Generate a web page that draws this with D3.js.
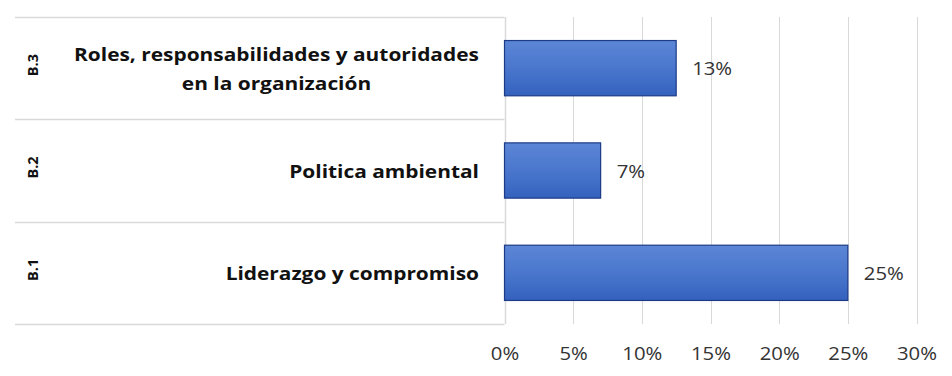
<!DOCTYPE html>
<html><head><meta charset="utf-8">
<script src="https://cdn.jsdelivr.net/npm/d3@7"></script>
<style>body{margin:0;background:#fff}svg{display:block}</style>
</head><body>
<svg id="c" width="952" height="376"></svg>
<script>
const codes = ["B.3", "B.2", "B.1"];
const categories = [["Roles, responsabilidades y autoridades", "en la organización"], ["Politica ambiental"], ["Liderazgo y compromiso"]];
const values = [0.125, 0.07, 0.25];
const valueLabels = ["13%", "7%", "25%"];
const ticks = [0, 0.05, 0.10, 0.15, 0.20, 0.25, 0.30];

(function(){
const FONT = "'Open Sans', sans-serif";
const SX = 1.16;
const svg = d3.select("#c");
const defs = svg.append("defs");
const g = defs.append("linearGradient").attr("id","bg").attr("x1",0).attr("x2",0).attr("y1",0).attr("y2",1);
g.append("stop").attr("offset","0%").attr("stop-color","#5c86d6");
g.append("stop").attr("offset","50%").attr("stop-color","#4a77cd");
g.append("stop").attr("offset","100%").attr("stop-color","#3461bd");

const pL = 504.5, pR = 916.5, pT = 17, pB = 324;
const x = d3.scaleLinear().domain([0, 0.30]).range([pL, pR]);
const y = d3.scaleBand().domain(codes).range([pT, pB]).paddingInner(0.46).paddingOuter(0.23);
const rows = d3.scaleBand().domain(codes).range([pT, pB]);

// gridlines
svg.append("g").selectAll("line").data(ticks.slice(1)).join("line")
  .attr("x1", d => Math.round(x(d)) + 0.5).attr("x2", d => Math.round(x(d)) + 0.5)
  .attr("y1", pT).attr("y2", pB)
  .attr("stroke", "#d9d9d9").attr("stroke-width", 1);

// category separators (multi-level axis)
const seps = [pT, ...codes.map(c => rows(c) + rows.bandwidth())];
svg.append("g").selectAll("line").data(seps).join("line")
  .attr("x1", 15).attr("x2", pL)
  .attr("y1", d => Math.round(d) + 0.5).attr("y2", d => Math.round(d) + 0.5)
  .attr("stroke", "#d9d9d9").attr("stroke-width", 1.5);
// axis line
svg.append("line").attr("x1", Math.round(pL)+0.5).attr("x2", Math.round(pL)+0.5)
  .attr("y1", pT).attr("y2", pB).attr("stroke", "#d9d9d9").attr("stroke-width", 1.5);

// bars
svg.append("g").selectAll("rect").data(codes).join("rect")
  .attr("x", x(0)).attr("y", d => y(d))
  .attr("width", (d, i) => x(values[i]) - x(0)).attr("height", y.bandwidth())
  .attr("fill", "url(#bg)").attr("stroke", "#1c3a86").attr("stroke-width", 1.2);

// value labels
svg.append("g").selectAll("text").data(codes).join("text")
  .attr("transform", (d, i) => `translate(${x(values[i]) + 16},${y(d) + y.bandwidth() / 2 + 1}) scale(${SX},1)`)
  .attr("dy", "0.35em").attr("font-family", FONT).attr("font-size", 17.5)
  .attr("fill", "#333").text((d, i) => valueLabels[i]);

// category labels
const cl = svg.append("g").selectAll("text").data(codes).join("text")
  .attr("text-anchor", "middle")
  .attr("font-family", FONT).attr("font-weight", "bold").attr("font-size", 18)
  .attr("fill", "#111");
cl.each(function(d, i) {
  const t = d3.select(this);
  const lines = categories[i];
  const n = lines.length;
  lines.forEach((s, k) => {
    t.append("tspan").attr("x", 0).attr("y", (k - (n - 1) / 2) * 29).attr("dy", "0.35em").text(s);
  });
});
cl.each(function(d, i) {
  const w = this.getBBox().width * SX;
  const cx = 479 - w / 2;
  const cy = rows(d) + rows.bandwidth() / 2 + 1;
  d3.select(this).attr("transform", `translate(${cx},${cy}) scale(${SX},1)`);
});

// code labels rotated
svg.append("g").selectAll("text").data(codes).join("text")
  .attr("transform", d => `translate(33,${rows(d) + rows.bandwidth() / 2 - 3}) rotate(-90)`)
  .attr("text-anchor", "middle").attr("dy", "0.36em")
  .attr("font-family", FONT).attr("font-weight", "bold").attr("font-size", 14.5)
  .attr("fill", "#111").text(d => d);

// x axis
const xa = d3.axisBottom(x).tickValues(ticks).tickSize(0).tickPadding(0).tickFormat(d3.format(".0%"));
const ax = svg.append("g").attr("transform", `translate(0,${pB})`).call(xa);
ax.select(".domain").remove();
ax.selectAll("text").attr("y", 0).attr("dy", "0")
  .attr("transform", `translate(0,36) scale(${SX},1)`)
  .attr("font-family", FONT).attr("font-size", 17.5).attr("fill", "#333");
})();
</script>
</body></html>
